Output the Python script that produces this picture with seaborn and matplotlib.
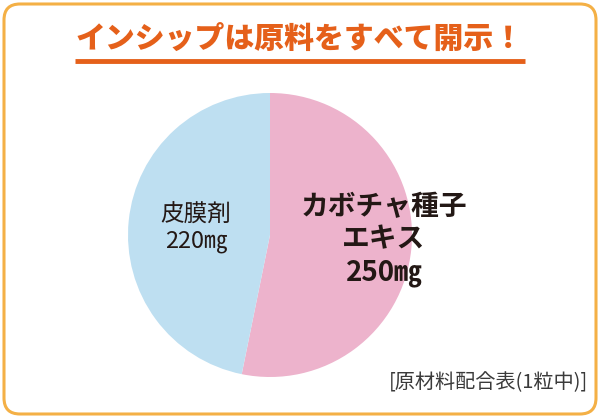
import matplotlib
matplotlib.use("Agg")
import matplotlib.pyplot as plt
import seaborn as sns
from matplotlib.patches import FancyBboxPatch

# --- datos ---
ingredients = ["カボチャ種子\nエキス\n250㎎", "皮膜剤\n220㎎"]
amounts_mg = [250, 220]
slice_colors = ["#EDB3CC", "#BEDFF1"]
title_text = "インシップは原料をすべて開示！"
note_text = "[原材料配合表(1粒中)]"

sns.set_style("white")
plt.rcParams['font.family'] = ['Noto Sans CJK JP', 'DejaVu Sans']

W, H = 600, 418
fig = plt.figure(figsize=(W / 100, H / 100), dpi=100)
fig.patch.set_facecolor("white")

# capa de fondo en pixeles (marco, titulo, nota)
bg = fig.add_axes([0, 0, 1, 1])
bg.set_xlim(0, W)
bg.set_ylim(H, 0)
bg.axis("off")
frame = FancyBboxPatch((4, 4), W - 8, H - 8, boxstyle="round,pad=0,rounding_size=16",
                       facecolor="white", edgecolor="#F4B046", linewidth=2.2)
bg.add_patch(frame)
bg.text(300, 38, title_text, ha="center", va="center", fontsize=21.5,
        fontweight="heavy", color="#E5601A")
bg.plot([75, 525], [61, 61], color="#E5601A", linewidth=3.5, solid_capstyle="butt")
bg.text(588, 383, note_text, ha="right", va="center", fontsize=14.5, color="#3a3a3a")

# grafico circular
cx, cy, r = 270, 235, 142
ax = fig.add_axes([(cx - r) / W, (H - cy - r) / H, 2 * r / W, 2 * r / H])
ax.pie(amounts_mg, colors=slice_colors, startangle=90, counterclock=False,
       wedgeprops=dict(linewidth=0))
ax.set_xlim(-1, 1)
ax.set_ylim(-1, 1)
ax.axis("off")

# etiquetas encima del grafico
top = fig.add_axes([0, 0, 1, 1])
top.set_xlim(0, W)
top.set_ylim(H, 0)
top.axis("off")
top.patch.set_alpha(0)
top.text(384, 240, ingredients[0], ha="center", va="center", fontsize=20,
         fontweight="bold", color="#231815", linespacing=1.2)
top.text(196, 228, ingredients[1], ha="center", va="center", fontsize=17,
         color="#231815", linespacing=1.15)

fig.savefig("out.png", dpi=100)
